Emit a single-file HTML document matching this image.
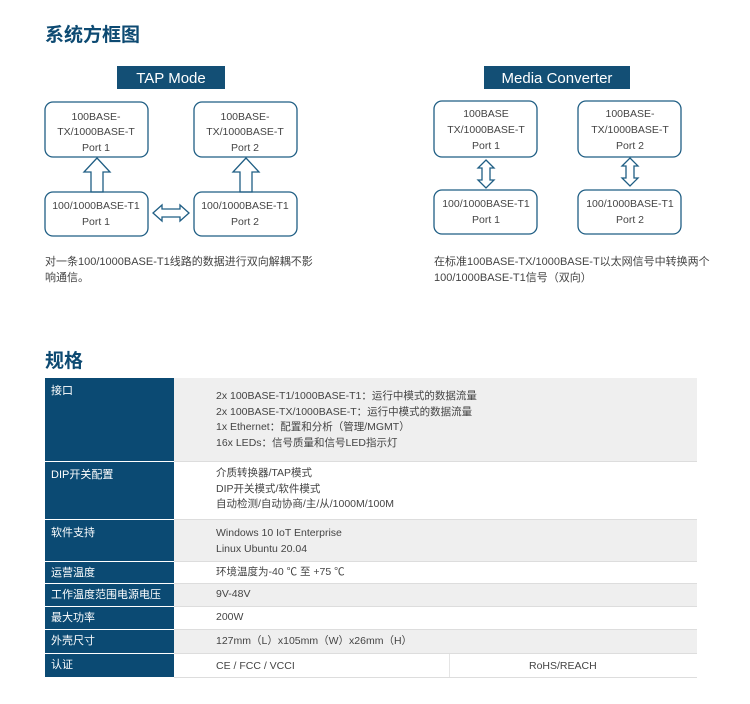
<!DOCTYPE html>
<html><head><meta charset="utf-8"><style>
body{margin:0;width:750px;height:704px;background:#fff;position:relative;font-family:"Liberation Sans","Noto Sans CJK SC",sans-serif;color:#333;overflow:hidden}
.a{position:absolute}
h2{position:absolute;margin:0;font-size:19px;font-weight:bold;color:#0d4a72;font-family:"Liberation Sans","Noto Sans CJK SC",sans-serif}
.t{font-size:11px;line-height:16px;color:#444}
.row{position:absolute;left:45px;width:652px}
.row .l{position:absolute;left:0;top:0;bottom:0;width:129px;background:#0b4a73;color:#fff;font-size:11px;padding:4px 0 0 6px;box-sizing:border-box;border-bottom:1px solid #fff}
.row .r{position:absolute;left:129px;right:0;top:0;bottom:0;font-size:10.5px;color:#444;line-height:15.5px;box-sizing:border-box;padding-left:42px;border-bottom:1px solid #ddd}
.s .l{padding-top:2px}
.g{background:#efefef}
</style></head><body>
<h2 style="left:45px;top:20px">系统方框图</h2>
<svg class="a" style="left:0;top:0" width="750" height="300" font-family="Liberation Sans, Noto Sans CJK SC, sans-serif" font-size="10.5" fill="#444">
<rect x="117" y="66" width="108" height="23" fill="#134f75"/>
<text x="171" y="83" text-anchor="middle" fill="#fff" font-size="15">TAP Mode</text>
<rect x="484" y="66" width="146" height="23" fill="#134f75"/>
<text x="557" y="83" text-anchor="middle" fill="#fff" font-size="15">Media Converter</text>
<g fill="none" stroke="#1f5e84" stroke-width="1.3">
<rect x="45" y="102" width="103" height="55" rx="8"/>
<rect x="194" y="102" width="103" height="55" rx="8"/>
<rect x="45" y="192" width="103" height="44" rx="8"/>
<rect x="194" y="192" width="103" height="44" rx="8"/>
<rect x="434" y="101" width="103" height="56" rx="8"/>
<rect x="578" y="101" width="103" height="56" rx="8"/>
<rect x="434" y="190" width="103" height="44" rx="8"/>
<rect x="578" y="190" width="103" height="44" rx="8"/>
<path d="M91 192V172H84L97 158L110 172H103V192Z"/>
<path d="M240 192V172H233L246 158L259 172H252V192Z"/>
<path d="M153 213L162 205V209H180V205L189 213L180 221V217H162V221Z"/>
<path d="M486 160L494 168H490V180H494L486 188L478 180H482V168H478Z"/>
<path d="M630 158L638 166H634V178H638L630 186L622 178H626V166H622Z"/>
</g>
<g text-anchor="middle">
<text x="96" y="120">100BASE-</text><text x="96" y="135">TX/1000BASE-T</text><text x="96" y="151">Port 1</text>
<text x="245" y="120">100BASE-</text><text x="245" y="135">TX/1000BASE-T</text><text x="245" y="151">Port 2</text>
<text x="96" y="209">100/1000BASE-T1</text><text x="96" y="225">Port 1</text>
<text x="245" y="209">100/1000BASE-T1</text><text x="245" y="225">Port 2</text>
<text x="486" y="117">100BASE</text><text x="486" y="133">TX/1000BASE-T</text><text x="486" y="149">Port 1</text>
<text x="630" y="117">100BASE-</text><text x="630" y="133">TX/1000BASE-T</text><text x="630" y="149">Port 2</text>
<text x="486" y="207">100/1000BASE-T1</text><text x="486" y="223">Port 1</text>
<text x="630" y="207">100/1000BASE-T1</text><text x="630" y="223">Port 2</text>
</g>
</svg>
<div class="a t" style="left:45px;top:254px">对一条100/1000BASE-T1线路的数据进行双向解耦不影<br>响通信。</div>
<div class="a t" style="left:434px;top:254px">在标准100BASE-TX/1000BASE-T以太网信号中转换两个<br>100/1000BASE-T1信号（双向）</div>
<h2 style="left:45px;top:346px">规格</h2>
<div class="row" style="top:378px;height:84px"><div class="l">接口</div><div class="r g" style="padding-top:11px">2x 100BASE-T1/1000BASE-T1：运行中模式的数据流量<br>2x 100BASE-TX/1000BASE-T：运行中模式的数据流量<br>1x Ethernet：配置和分析（管理/MGMT）<br>16x LEDs：信号质量和信号LED指示灯</div></div>
<div class="row" style="top:462px;height:58px"><div class="l">DIP开关配置</div><div class="r" style="padding-top:4px">介质转换器/TAP模式<br>DIP开关模式/软件模式<br>自动检测/自动协商/主/从/1000M/100M</div></div>
<div class="row" style="top:520px;height:42px"><div class="l">软件支持</div><div class="r g" style="padding-top:6px">Windows 10 IoT Enterprise<br>Linux Ubuntu 20.04</div></div>
<div class="row s" style="top:562px;height:22px"><div class="l">运营温度</div><div class="r" style="padding-top:3px">环境温度为-40 ℃ 至 +75 ℃</div></div>
<div class="row s" style="top:584px;height:23px"><div class="l">工作温度范围电源电压</div><div class="r g" style="padding-top:3px">9V-48V</div></div>
<div class="row s" style="top:607px;height:23px"><div class="l">最大功率</div><div class="r" style="padding-top:3px">200W</div></div>
<div class="row s" style="top:630px;height:24px"><div class="l">外壳尺寸</div><div class="r g" style="padding-top:4px">127mm（L）x105mm（W）x26mm（H）</div></div>
<div class="row s" style="top:654px;height:24px"><div class="l">认证</div><div class="r" style="padding-top:5px">CE / FCC / VCCI<span style="position:absolute;left:275px;top:0;bottom:0;border-left:1px solid #e5e5e5"></span><span style="position:absolute;left:355px;top:5px">RoHS/REACH</span></div></div>
</body></html>
